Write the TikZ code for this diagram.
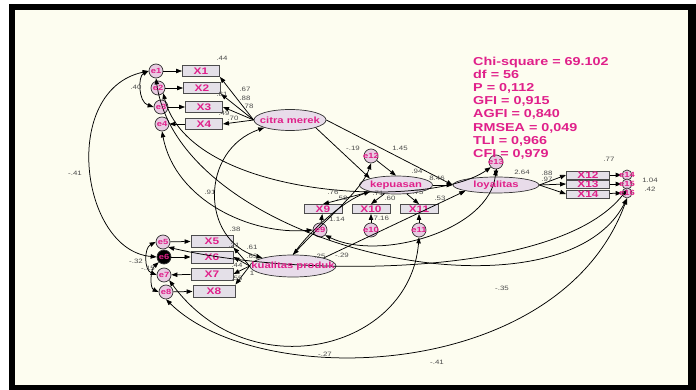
\documentclass[tikz,border=0pt]{standalone}
\usepackage{fontspec}
\setmainfont{Liberation Sans}
\newfontfamily\amosfont[FakeStretch=1.25]{Liberation Sans}
\usetikzlibrary{arrows.meta,shapes.geometric}

\definecolor{bgcream}{HTML}{FDFDF0}
\definecolor{amospink}{HTML}{E0208A}
\definecolor{boxfill}{HTML}{E4E0E8}
\definecolor{latfill}{HTML}{E8DCEA}
\definecolor{errfill}{HTML}{E8CCE2}

\tikzset{
  obsvar/.style={draw=black!70, fill=boxfill, line width=0.9pt, inner sep=0pt,
    minimum width=37pt, minimum height=11pt,
    font=\amosfont\bfseries\fontsize{9.5}{9.5}\selectfont, text=amospink},
  latvar/.style={ellipse, draw=black!80, fill=latfill, line width=0.7pt, inner sep=0pt},
  lattext/.style={font=\amosfont\bfseries\fontsize{9}{9}\selectfont, text=amospink, inner sep=0pt},
  errvar/.style={circle, draw=black!80, fill=errfill, line width=0.7pt, inner sep=0pt, minimum size=14pt},
  errtext/.style={font=\amosfont\bfseries\fontsize{7.5}{7.5}\selectfont, text=amospink, inner sep=0pt},
  coef/.style={font=\amosfont\fontsize{6.3}{6.3}\selectfont, text=black!70, inner sep=0pt},
  regpath/.style={-{Triangle[length=6pt,width=4.4pt]}, line width=0.75pt},
  covpath/.style={{Triangle[length=6pt,width=4.4pt]}-{Triangle[length=6pt,width=4.4pt]}, line width=0.75pt},
  fitstats/.style={font=\amosfont\bfseries\fontsize{11.5}{13.1}\selectfont, text=amospink,
    align=left, inner sep=0pt}
}

\begin{document}
\begin{tikzpicture}[x=1pt, y=-1pt]
  \useasboundingbox (0,0) rectangle (696,390);
  % bingkai
  \fill[white] (0,0) rectangle (696,390);
  \fill[black] (9,4) rectangle (696,390);
  \fill[bgcream] (15,10) rectangle (688,385);

  % indikator
  \foreach \n/\x/\y in {1/201/71, 2/202/88, 3/204/107, 4/204/124} {
    \node[obsvar] (x\n) at (\x,\y) {X\n};
  }
  \foreach \n/\x/\y in {5/212/241, 6/212/257, 7/212/274, 8/214/291} {
    \node[obsvar, minimum width=42pt, minimum height=12pt] (x\n) at (\x,\y) {X\n};
  }
  \foreach \n/\x in {9/323, 10/371, 11/419} {
    \node[obsvar, minimum width=38pt, minimum height=9pt] (x\n) at (\x,209) {X\n};
  }
  \foreach \n/\y in {12/175, 13/184, 14/194} {
    \node[obsvar, minimum width=43pt, minimum height=8pt] (x\n) at (588,\y) {X\n};
  }

  % variabel laten
  \node[latvar, minimum width=72pt, minimum height=21pt] (citra) at (290,120) {};
  \node[latvar, minimum width=73pt, minimum height=18pt] (kepuasan) at (396,185) {};
  \node[latvar, minimum width=86pt, minimum height=16pt] (loyalitas) at (496,185) {};
  \node[latvar, minimum width=86pt, minimum height=22pt] (kualitas) at (293,266) {};

  % error
  \foreach \n/\x/\y in {1/156/71, 2/158/88, 3/161/107, 4/162/124, 5/163/242,
      7/164/275, 8/166/292, 9/320/230, 10/371/230, 11/419/230, 12/371/156, 13/496/162} {
    \node[errvar] (e\n) at (\x,\y) {};
  }
  \node[errvar, fill=black] (e6) at (164,257) {};
  \foreach \n/\y in {14/175, 15/184, 16/193} {
    \node[errvar, minimum size=10pt] (e\n) at (627,\y) {};
  }

  % jalur pengukuran
  \foreach \n in {1,2,3,5,6,8,9,10,11} {
    \draw[regpath] (e\n) -- (x\n);
  }
  \foreach \n in {4,7} {
    \draw[regpath] (x\n) -- (e\n);
  }
  \foreach \n/\m in {12/14, 13/15, 14/16} {
    \draw[regpath] (x\n) -- (e\m);
  }
  \foreach \n/\a in {1/south east, 2/south east, 3/east, 4/east} {
    \draw[regpath] (citra.west) -- (x\n.\a);
  }
  \foreach \n/\a in {5/south east, 6/east, 7/east, 8/north east} {
    \draw[regpath] (kualitas.west) -- (x\n.\a);
  }
  \foreach \n in {9,10,11} {
    \draw[regpath] (kepuasan) -- (x\n.north);
  }
  \foreach \n in {12,13,14} {
    \draw[regpath] (loyalitas.east) -- (x\n.west);
  }

  % jalur struktural
  \draw[regpath] (citra.south east) -- (kepuasan.north west);
  \draw[regpath] (citra.east) -- (loyalitas.west);
  \draw[regpath] (e12) -- (kepuasan.north);
  \draw[regpath] (kepuasan) -- (loyalitas);
  \draw[regpath] (e13) -- (loyalitas);
  \draw[regpath] (kualitas.north) .. controls (310,230) and (345,200) .. (kepuasan.south west);
  \draw[regpath] (kualitas.north east) -- (loyalitas.south west);

  % kovarians
  \draw[covpath] (kualitas.north west) .. controls (200,240) and (200,150) .. (citra.south west);
  \draw[covpath] (kualitas.north) .. controls (330,215) and (362,190) .. (e12.south);
  \draw[covpath] (e1.west) .. controls (138,76) and (138,102) .. (e3.west);
  \draw[covpath] (e1.west) .. controls (60,90) and (80,250) .. (e6.west);
  \draw[covpath] (e5.west) .. controls (144,248) and (144,270) .. (e7.west);
  \draw[covpath] (e6.south west) .. controls (150,270) and (150,288) .. (e8.west);
  \draw[covpath] (e2.south east) .. controls (190,200) and (430,210) .. (e13.south west);
  \draw[covpath] (e4.south) .. controls (175,200) and (250,235) .. (e9.west);
  \draw[covpath] (e1.south) .. controls (180,250) and (560,330) .. (e16.south);
  \draw[covpath] (e9.south east) .. controls (380,262) and (490,230) .. (e13.south);
  \draw[covpath] (e5.south east) .. controls (300,278) and (560,278) .. (e15.south);
  \draw[covpath] (e7.south east) .. controls (250,390) and (410,350) .. (e11.south);
  \draw[covpath] (e8.south) .. controls (260,392) and (560,382) .. (e16.south);

  % teks di atas garis
  \node[lattext] (citra-t) at (citra) {citra merek};
  \node[lattext] (kepuasan-t) at (kepuasan) {kepuasan};
  \node[lattext] (loyalitas-t) at (loyalitas) {loyalitas};
  \node[lattext] (kualitas-t) at (kualitas) {kualitas produk};
  \foreach \n in {1,...,16} {
    \node[errtext] (e\n-t) at (e\n) {e\n};
  }

  % koefisien
  \foreach \t/\x/\y [count=\i] in {.44/222/58, .67/245/89, .88/245/98, .78/248/106,
      .81/222/94, .49/224/113, .70/233/118, .40/136/87, -.41/75/173, .91/210/192,
      .38/235/229, .21/234/245, .61/252/247, .63/252/256, .44/237/265, 1/252/273,
      .55/237/278, -.32/136/261, -.15/148/268, -.19/353/148, 1.45/400/148,
      .94/417/171, 8.46/437/178, .76/333/192, .58/342/198, .71/378/193, .60/390/198,
      .75/418/192, .53/440/198, 1.14/337/219, -7.16/380/218, .25/320/256,
      -.29/342/255, 2.64/522/172, .88/547/173, .97/547/179, .77/609/159,
      1.04/650/180, .42/650/189, -.35/502/288, -.27/325/354, -.41/437/362} {
    \node[coef] (k\i) at (\x,\y) {\t};
  }

  % ukuran kecocokan
  \node[fitstats, anchor=north west] (fit) at (473,57) {Chi-square = 69.102\\
    df = 56\\ P = 0,112\\ GFI = 0,915\\ AGFI = 0,840\\ RMSEA = 0,049\\
    TLI = 0,966\\ CFI = 0,979};
\end{tikzpicture}
\end{document}
